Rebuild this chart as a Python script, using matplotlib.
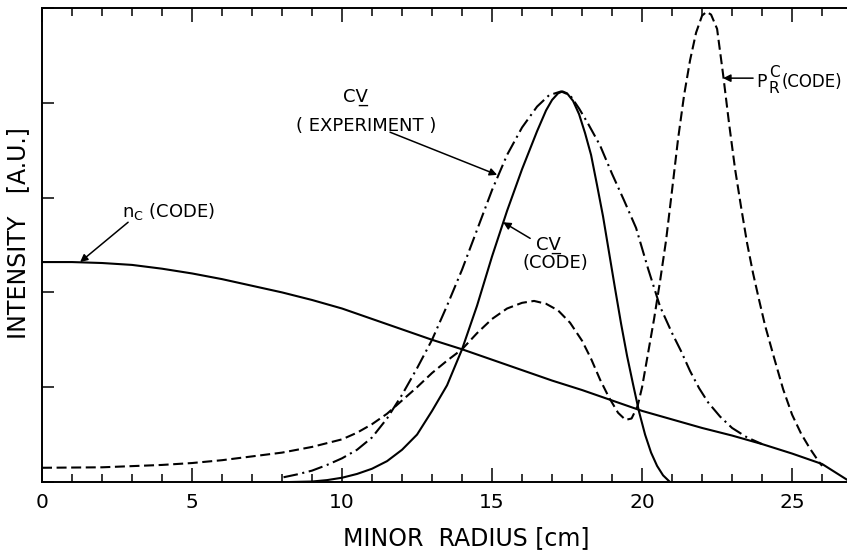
import matplotlib
matplotlib.use("Agg")
import matplotlib.pyplot as plt
from matplotlib.ticker import MultipleLocator

plt.rcParams['font.family'] = ['DejaVu Sans']
plt.rcParams['mathtext.fontset'] = 'dejavusans'

# Carbon density profile (code)
r_nc = [0.0, 1.0, 2.0, 3.0, 4.0, 5.0, 6.0, 7.0, 8.0, 9.0, 10.0, 11.0, 12.0,
        13.0, 14.0, 15.0, 16.0, 17.0, 18.0, 19.0, 20.0, 21.0, 22.0, 23.0,
        24.0, 25.0, 26.0, 26.4, 26.85]
i_nc = [2.32, 2.32, 2.31, 2.29, 2.25, 2.20, 2.14, 2.07, 2.00, 1.92, 1.83, 1.72,
        1.61, 1.50, 1.40, 1.29, 1.18, 1.07, 0.97, 0.86, 0.75, 0.66, 0.57, 0.49,
        0.40, 0.30, 0.19, 0.11, 0.02]

# C V emission (code)
r_cv_code = [8.3, 9.0, 9.5, 10.0, 10.5, 11.0, 11.5, 12.0, 12.5, 13.0, 13.5, 14.0,
             14.5, 15.0, 15.5, 16.0, 16.5, 16.8, 17.0, 17.2, 17.35, 17.5, 17.7,
             17.9, 18.1, 18.3, 18.5, 18.7, 18.9, 19.1, 19.3, 19.5, 19.7, 19.9,
             20.1, 20.3, 20.5, 20.7, 20.93]
i_cv_code = [0.0, 0.005, 0.02, 0.045, 0.085, 0.14, 0.22, 0.34, 0.50, 0.75, 1.02,
             1.40, 1.86, 2.38, 2.86, 3.30, 3.70, 3.92, 4.03, 4.10, 4.12, 4.10,
             4.02, 3.88, 3.68, 3.45, 3.13, 2.80, 2.42, 2.04, 1.67, 1.33, 1.03,
             0.74, 0.50, 0.31, 0.17, 0.07, 0.0]

# C V emission (experiment)
r_cv_exp = [8.05, 8.5, 9.0, 9.5, 10.0, 10.5, 11.0, 11.5, 12.0, 12.5, 13.0, 13.5,
            14.0, 14.5, 15.0, 15.5, 16.0, 16.5, 16.9, 17.3, 17.6, 17.9, 18.2,
            18.6, 19.0, 19.4, 19.8, 20.2, 20.6, 21.0, 21.3, 21.6, 21.9, 22.2,
            22.6, 23.0, 23.5, 24.0]
i_cv_exp = [0.05, 0.08, 0.12, 0.18, 0.25, 0.34, 0.47, 0.67, 0.92, 1.20, 1.50, 1.86,
            2.24, 2.66, 3.08, 3.45, 3.74, 3.96, 4.08, 4.12, 4.08, 3.94, 3.78,
            3.55, 3.25, 2.97, 2.68, 2.25, 1.85, 1.57, 1.38, 1.17, 0.99, 0.84,
            0.69, 0.57, 0.47, 0.40]

# Radiated power P_R^C (code)
r_pr = [0.0, 2.0, 4.0, 5.0, 6.0, 7.0, 8.0, 9.0, 10.0, 10.5, 11.0, 11.5, 12.0,
        12.5, 13.0, 13.5, 14.0, 14.5, 15.0, 15.5, 16.0, 16.4, 16.8, 17.2, 17.6,
        18.0, 18.3, 18.6, 18.9, 19.2, 19.45, 19.65, 19.85, 20.0, 20.2, 20.4,
        20.6, 20.8, 21.0, 21.2, 21.4, 21.6, 21.8, 22.0, 22.15, 22.3, 22.5, 22.7,
        22.9, 23.1, 23.3, 23.5, 23.7, 23.9, 24.1, 24.4, 24.7, 25.0, 25.3, 25.6,
        25.9, 26.0]
i_pr = [0.15, 0.155, 0.18, 0.20, 0.23, 0.27, 0.31, 0.37, 0.45, 0.52, 0.61, 0.72,
        0.86, 1.00, 1.15, 1.28, 1.40, 1.57, 1.72, 1.83, 1.89, 1.91, 1.88, 1.81,
        1.68, 1.49, 1.30, 1.08, 0.89, 0.73, 0.655, 0.67, 0.80, 1.00, 1.36, 1.72,
        2.12, 2.55, 3.08, 3.62, 4.08, 4.45, 4.74, 4.92, 4.96, 4.93, 4.78, 4.30,
        3.78, 3.30, 2.90, 2.52, 2.20, 1.92, 1.65, 1.31, 0.98, 0.71, 0.51, 0.35,
        0.21, 0.17]

x_ticks = [0, 5, 10, 15, 20, 25]
x_ticklabels = ["0", "5", "10", "15", "20", "25"]

fig = plt.figure(figsize=(8.47, 5.57), dpi=100)
ax = fig.add_axes([42 / 847, 1 - 482 / 557, 1 - 42 / 847, 474 / 557])

lw = 1.5
ax.plot(r_nc, i_nc, color='black', lw=lw, solid_joinstyle='round')
ax.plot(r_cv_code, i_cv_code, color='black', lw=lw, solid_joinstyle='round')
ax.plot(r_cv_exp, i_cv_exp, color='black', lw=lw, dashes=(7, 2.2, 1, 2.2))
ax.plot(r_pr, i_pr, color='black', lw=lw, dashes=(4.8, 2.2))

ax.set_xlim(0, 26.83)
ax.set_ylim(0, 5)

for s in ['left', 'bottom', 'top']:
    ax.spines[s].set_linewidth(1.4)
ax.spines['right'].set_visible(False)

ax.set_xticks(x_ticks)
ax.set_xticklabels(x_ticklabels)
ax.xaxis.set_minor_locator(MultipleLocator(1))
ax.set_yticks([0, 1, 2, 3, 4, 5])
ax.set_yticklabels([])
ax.tick_params(axis='x', which='major', direction='in', top=True, length=10,
               width=1.1, labelsize=14.5, pad=8)
ax.tick_params(axis='x', which='minor', direction='in', top=True, length=6,
               width=1.1)
ax.tick_params(axis='y', which='major', direction='in', left=True, right=False,
               length=8.5, width=1.1)

fig.text(466 / 847, 1 - 538 / 557, "MINOR  RADIUS [cm]", fontsize=17,
         ha='center', va='center')
fig.text(18 / 847, 1 - 233 / 557, "INTENSITY   [A.U.]", fontsize=17,
         ha='center', va='center', rotation=90)

fs = 13
arrow = dict(arrowstyle='-|>', color='black', lw=1.1, mutation_scale=11,
             shrinkA=0, shrinkB=0)

# n_C label
ax.text(2.67, 2.80, r"n$_\mathrm{C}$ (CODE)", fontsize=fs, ha='left', va='baseline')
ax.annotate("", xy=(1.27, 2.32), xytext=(2.87, 2.74), arrowprops=arrow)

# C V experiment label
ax.text(10.43, 4.06, "CV\u0332", fontsize=fs, ha='center', va='center')
ax.text(10.8, 3.76, "( EXPERIMENT )", fontsize=fs, ha='center', va='center')
ax.annotate("", xy=(15.17, 3.24), xytext=(11.6, 3.69), arrowprops=arrow)

# C V code label
ax.text(16.87, 2.50, "CV\u0332", fontsize=fs, ha='center', va='center')
ax.text(17.1, 2.31, "(CODE)", fontsize=fs, ha='center', va='center')
ax.annotate("", xy=(15.37, 2.74), xytext=(16.27, 2.57), arrowprops=arrow)

# P_R^C label: P with stacked superscript C and subscript R
ax.text(23.82, 4.17, "P", fontsize=12.5, ha='left', va='baseline', clip_on=False)
ax.text(24.22, 4.27, "C", fontsize=11, ha='left', va='baseline', clip_on=False)
ax.text(24.22, 4.10, "R", fontsize=11, ha='left', va='baseline', clip_on=False)
ax.text(24.66, 4.17, "(CODE)", fontsize=12, ha='left', va='baseline',
        clip_on=False)
ax.annotate("", xy=(22.7, 4.26), xytext=(23.7, 4.26), arrowprops=arrow)

fig.savefig("out.png", dpi=100)
